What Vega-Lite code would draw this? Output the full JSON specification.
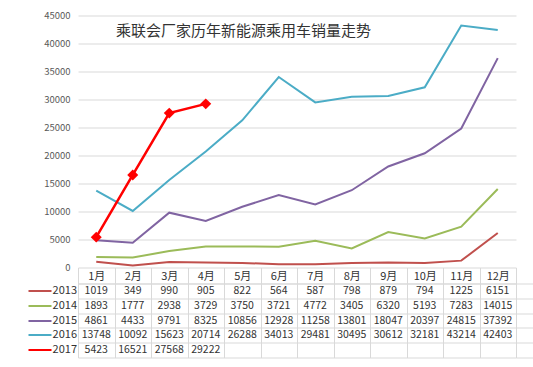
{
  "$schema": "https://vega.github.io/schema/vega-lite/v6.json",
  "padding": {"left": 27, "top": 10.5, "right": 60, "bottom": 10},
  "background": "white",
  "bounds": "flush",
  "spacing": 16,
  "config": {"view": {"stroke": null}, "font": "Noto Sans CJK SC"},
  "datasets": {
    "sales": [
      {"year": "2013", "m": 1, "sales": 1019}, {"year": "2013", "m": 2, "sales": 349}, {"year": "2013", "m": 3, "sales": 990}, {"year": "2013", "m": 4, "sales": 905}, {"year": "2013", "m": 5, "sales": 822}, {"year": "2013", "m": 6, "sales": 564}, {"year": "2013", "m": 7, "sales": 587}, {"year": "2013", "m": 8, "sales": 798}, {"year": "2013", "m": 9, "sales": 879}, {"year": "2013", "m": 10, "sales": 794}, {"year": "2013", "m": 11, "sales": 1225}, {"year": "2013", "m": 12, "sales": 6151},
      {"year": "2014", "m": 1, "sales": 1893}, {"year": "2014", "m": 2, "sales": 1777}, {"year": "2014", "m": 3, "sales": 2938}, {"year": "2014", "m": 4, "sales": 3729}, {"year": "2014", "m": 5, "sales": 3750}, {"year": "2014", "m": 6, "sales": 3721}, {"year": "2014", "m": 7, "sales": 4772}, {"year": "2014", "m": 8, "sales": 3405}, {"year": "2014", "m": 9, "sales": 6320}, {"year": "2014", "m": 10, "sales": 5193}, {"year": "2014", "m": 11, "sales": 7283}, {"year": "2014", "m": 12, "sales": 14015},
      {"year": "2015", "m": 1, "sales": 4861}, {"year": "2015", "m": 2, "sales": 4433}, {"year": "2015", "m": 3, "sales": 9791}, {"year": "2015", "m": 4, "sales": 8325}, {"year": "2015", "m": 5, "sales": 10856}, {"year": "2015", "m": 6, "sales": 12928}, {"year": "2015", "m": 7, "sales": 11258}, {"year": "2015", "m": 8, "sales": 13801}, {"year": "2015", "m": 9, "sales": 18047}, {"year": "2015", "m": 10, "sales": 20397}, {"year": "2015", "m": 11, "sales": 24815}, {"year": "2015", "m": 12, "sales": 37392},
      {"year": "2016", "m": 1, "sales": 13748}, {"year": "2016", "m": 2, "sales": 10092}, {"year": "2016", "m": 3, "sales": 15623}, {"year": "2016", "m": 4, "sales": 20714}, {"year": "2016", "m": 5, "sales": 26288}, {"year": "2016", "m": 6, "sales": 34013}, {"year": "2016", "m": 7, "sales": 29481}, {"year": "2016", "m": 8, "sales": 30495}, {"year": "2016", "m": 9, "sales": 30612}, {"year": "2016", "m": 10, "sales": 32181}, {"year": "2016", "m": 11, "sales": 43214}, {"year": "2016", "m": 12, "sales": 42403},
      {"year": "2017", "m": 1, "sales": 5423}, {"year": "2017", "m": 2, "sales": 16521}, {"year": "2017", "m": 3, "sales": 27568}, {"year": "2017", "m": 4, "sales": 29222}
    ]
  },
  "vconcat": [
    {
      "width": 438,
      "height": 252,
      "title": {"text": "乘联会厂家历年新能源乘用车销量走势", "anchor": "start", "frame": "group", "fontSize": 15, "fontWeight": "normal", "color": "#333333", "dx": 38, "offset": -43, "baseline": "bottom"},
      "data": {"name": "sales"},
      "encoding": {
        "x": {"field": "m", "type": "ordinal", "scale": {"type": "point", "padding": 0.5}, "axis": null},
        "y": {"field": "sales", "type": "quantitative", "scale": {"domain": [0, 45000]},
          "axis": {"values": [0, 5000, 10000, 15000, 20000, 25000, 30000, 35000, 40000, 45000], "format": "d", "grid": true, "gridColor": "#d9d9d9", "domain": false, "ticks": false, "labelFontSize": 9.5, "labelColor": "#595959", "labelPadding": 8, "title": null}},
        "color": {"field": "year", "type": "nominal", "scale": {"domain": ["2013", "2014", "2015", "2016", "2017"], "range": ["#C0504D", "#9BBB59", "#8064A2", "#4BACC6", "#FF0000"]}, "legend": null}
      },
      "layer": [
        {"transform": [{"filter": "datum.year !== '2017'"}], "mark": {"type": "line", "strokeWidth": 2}},
        {"transform": [{"filter": "datum.year === '2017'"}], "mark": {"type": "line", "strokeWidth": 2.5}},
        {"transform": [{"filter": "datum.year === '2017'"}], "mark": {"type": "point", "shape": "diamond", "filled": true, "size": 120, "opacity": 1}}
      ]
    },
    {
      "width": 438,
      "height": 74,
      "data": {"name": "sales"},
      "layer": [
        {
          "mark": {"type": "text", "fontSize": 10.5, "color": "#333333"},
          "encoding": {
            "x": {"field": "m", "type": "ordinal", "scale": {"type": "band", "paddingInner": 0, "paddingOuter": 0},
              "axis": {"orient": "top", "title": null, "labelExpr": "isValid(datum.value) ? datum.value + '月' : ''", "tickBand": "extent", "tickSize": 16, "tickColor": "#d9d9d9", "grid": true, "gridColor": "#d9d9d9", "domain": true, "domainColor": "#d9d9d9", "labelPadding": -9, "labelFontSize": 11, "labelColor": "#333333", "labelAngle": 0, "labelBaseline": "middle"}},
            "y": {"field": "year", "type": "nominal", "scale": {"type": "band", "paddingInner": 0, "paddingOuter": 0},
              "axis": {"title": null, "domain": false, "grid": false, "tickSize": 50, "tickDash": [0, 27, 23, 100], "tickWidth": 2, "tickCap": "butt",
                "tickColor": {"condition": [{"test": "datum.value === '2013'", "value": "#C0504D"}, {"test": "datum.value === '2014'", "value": "#9BBB59"}, {"test": "datum.value === '2015'", "value": "#8064A2"}, {"test": "datum.value === '2016'", "value": "#4BACC6"}], "value": "#FF0000"},
                "labelPadding": -48.5, "labelFontSize": 11, "labelColor": "#333333"}},
            "text": {"field": "sales", "type": "quantitative", "format": "d"}
          }
        },
        {
          "mark": {"type": "text"},
          "encoding": {
            "x": {"field": "m", "type": "ordinal"},
            "y": {"field": "year", "type": "nominal",
              "axis": {"title": null, "labels": false, "tickBand": "extent", "tickSize": 50, "tickColor": "#d9d9d9", "grid": true, "gridColor": "#d9d9d9", "domain": true, "domainColor": "#d9d9d9"}}
          }
        }
      ],
      "resolve": {"axis": {"y": "independent"}}
    }
  ]
}
